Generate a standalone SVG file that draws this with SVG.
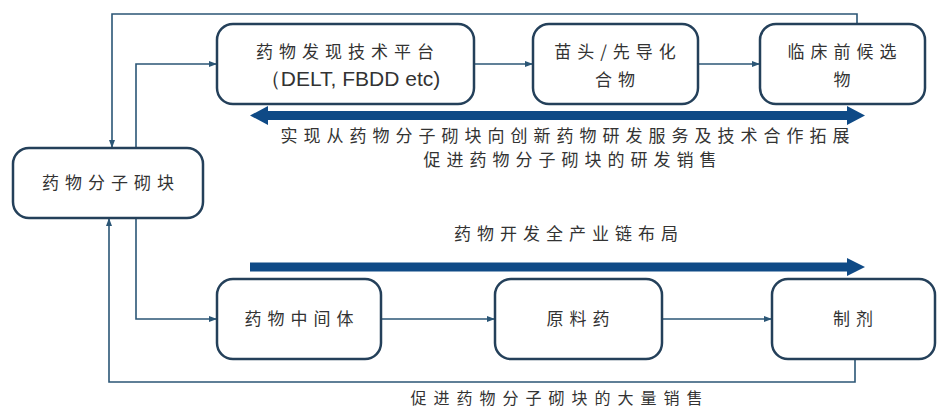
<svg xmlns="http://www.w3.org/2000/svg" width="939" height="410" viewBox="0 0 939 410">
<defs>
<style>
.node rect{fill:#fff;stroke:#24405a;stroke-width:2.5}
.t{font-family:"Noto Sans CJK SC","Noto Sans CJK JP",sans-serif;font-size:17px;fill:#333;letter-spacing:6px;text-anchor:middle}
.e{font-family:"Liberation Sans",Arial,sans-serif;font-size:21px;fill:#333;text-anchor:middle}
.ln{fill:none;stroke:#2b5676;stroke-width:1.6}
.big{fill:#0f4a86}
</style>
<marker id="ah" markerWidth="8" markerHeight="8" refX="7" refY="4" orient="auto" markerUnits="userSpaceOnUse">
<path d="M0,1 L8,4 L0,7 Z" fill="#2b5676"/>
</marker>
</defs>
<rect width="939" height="410" fill="#fff"/>
<g id="connectors">
<path class="ln" d="M857,24 V14 H112 V147" marker-end="url(#ah)"/>
<path class="ln" d="M136,148 V64 H216" marker-end="url(#ah)"/>
<path class="ln" d="M474,64 H532" marker-end="url(#ah)"/>
<path class="ln" d="M698,64 H759" marker-end="url(#ah)"/>
<path class="ln" d="M136,218 V319 H216" marker-end="url(#ah)"/>
<path class="ln" d="M381,319 H494" marker-end="url(#ah)"/>
<path class="ln" d="M662,319 H771" marker-end="url(#ah)"/>
<path class="ln" d="M855,359 V382 H109 V219" marker-end="url(#ah)"/>
<path class="big" d="M250,115.5 L268,106 L268,111 L847,111 L847,106 L865,115.5 L847,125 L847,120 L268,120 L268,125 Z"/>
<path class="big" d="M250,262.5 L847,262.5 L847,258 L865,267 L847,276 L847,271.5 L250,271.5 Z"/>
</g>
<g id="n-blocks" class="node"><rect x="13" y="148" width="190" height="70" rx="16"/><text class="t" x="111" y="189">药物分子砌块</text></g>
<g id="n-platform" class="node"><rect x="217" y="24" width="257" height="80" rx="16"/><text class="t" x="348" y="58">药物发现技术平台</text><text class="e" x="350" y="86">（DELT, FBDD etc)</text></g>
<g id="n-hit" class="node"><rect x="533" y="24" width="165" height="80" rx="16"/><text class="t" x="618" y="58">苗头/先导化</text><text class="t" x="618" y="86">合物</text></g>
<g id="n-candidate" class="node"><rect x="760" y="24" width="165" height="80" rx="16"/><text class="t" x="845" y="58">临床前候选</text><text class="t" x="845" y="86">物</text></g>
<g id="n-intermediate" class="node"><rect x="217" y="279" width="164" height="80" rx="16"/><text class="t" x="302" y="325">药物中间体</text></g>
<g id="n-api" class="node"><rect x="495" y="279" width="167" height="80" rx="16"/><text class="t" x="581" y="325">原料药</text></g>
<g id="n-formulation" class="node"><rect x="772" y="279" width="163" height="80" rx="16"/><text class="t" x="856" y="325">制剂</text></g>
<g id="labels">
<text class="t" x="568" y="142">实现从药物分子砌块向创新药物研发服务及技术合作拓展</text>
<text class="t" x="573" y="166">促进药物分子砌块的研发销售</text>
<text class="t" x="569" y="240">药物开发全产业链布局</text>
<text class="t" x="560" y="404" style="font-size:16px;letter-spacing:7px">促进药物分子砌块的大量销售</text>
</g>
</svg>
